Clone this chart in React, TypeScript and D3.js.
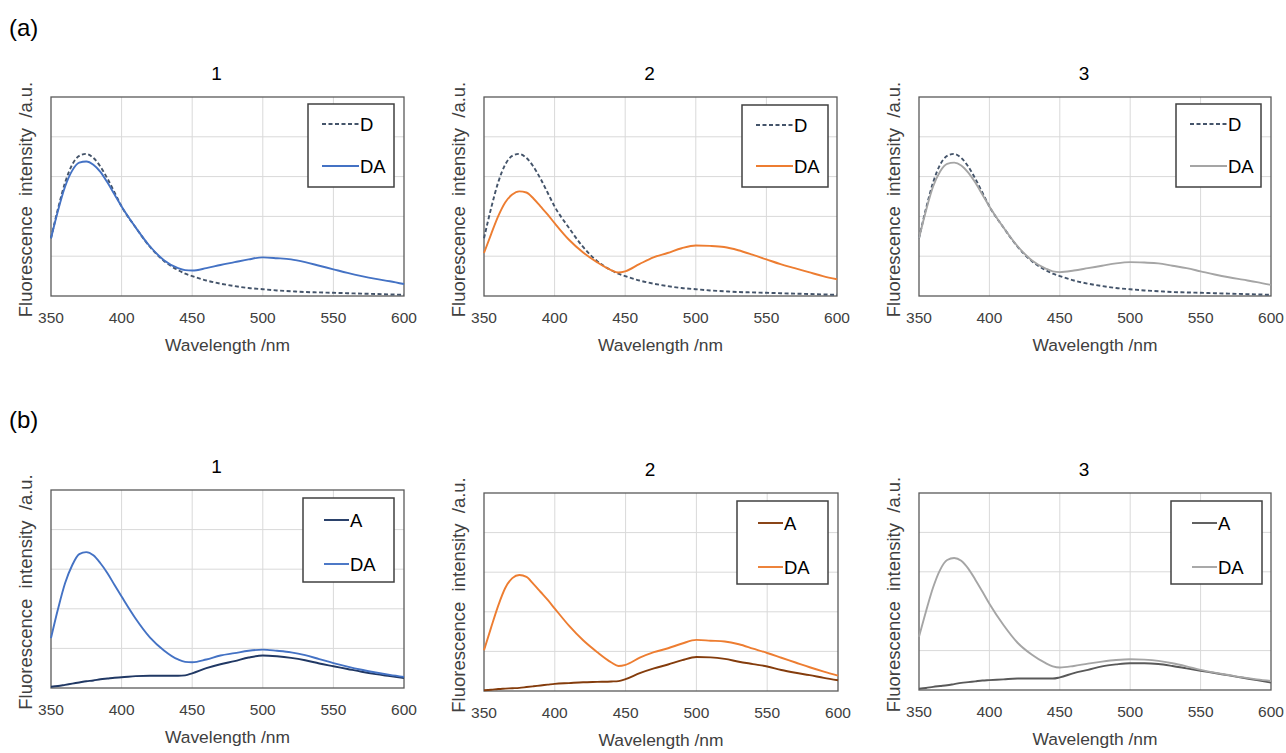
import React from 'react';
import * as d3 from 'd3';

// wavelength grid shared by every spectrum (nm)
const wavelengths = [350, 355, 360, 365, 370, 375, 380, 385, 390, 395, 400, 410, 420, 430, 440, 445, 450, 460, 470, 480, 490, 500, 510, 520, 530, 540, 550, 560, 570, 580, 590, 600];

// (a) donor only vs donor-acceptor
const donorD = [1.45, 2.2, 2.85, 3.3, 3.52, 3.57, 3.47, 3.25, 2.95, 2.6, 2.25, 1.72, 1.24, 0.88, 0.65, 0.56, 0.5, 0.39, 0.31, 0.25, 0.2, 0.17, 0.14, 0.12, 0.1, 0.09, 0.08, 0.07, 0.06, 0.05, 0.04, 0.03];
const daA1 = [1.45, 2.15, 2.75, 3.15, 3.35, 3.38, 3.3, 3.12, 2.85, 2.55, 2.25, 1.72, 1.25, 0.9, 0.7, 0.65, 0.64, 0.7, 0.78, 0.85, 0.92, 0.97, 0.95, 0.92, 0.85, 0.76, 0.67, 0.58, 0.5, 0.43, 0.37, 0.3];
const daA2 = [1.08, 1.55, 2.0, 2.35, 2.55, 2.63, 2.6, 2.45, 2.25, 2.05, 1.83, 1.42, 1.1, 0.85, 0.65, 0.59, 0.62, 0.8, 0.97, 1.08, 1.2, 1.27, 1.26, 1.23, 1.15, 1.04, 0.92, 0.8, 0.7, 0.6, 0.5, 0.42];
const daA3 = [1.45, 2.15, 2.75, 3.13, 3.32, 3.35, 3.28, 3.1, 2.85, 2.55, 2.25, 1.72, 1.25, 0.9, 0.69, 0.62, 0.6, 0.64, 0.7, 0.76, 0.82, 0.85, 0.84, 0.82, 0.76, 0.7, 0.62, 0.54, 0.47, 0.41, 0.35, 0.28];

// (b) acceptor only vs donor-acceptor
const accB1 = [0.03, 0.05, 0.08, 0.11, 0.14, 0.17, 0.19, 0.22, 0.24, 0.26, 0.27, 0.3, 0.31, 0.31, 0.31, 0.32, 0.37, 0.5, 0.6, 0.68, 0.77, 0.82, 0.8, 0.76, 0.7, 0.62, 0.55, 0.48, 0.41, 0.35, 0.3, 0.25];
const daB1 = [1.26, 2.0, 2.65, 3.1, 3.38, 3.43, 3.35, 3.15, 2.9, 2.6, 2.31, 1.75, 1.28, 0.95, 0.72, 0.66, 0.65, 0.72, 0.82, 0.88, 0.94, 0.97, 0.94, 0.9, 0.83, 0.73, 0.63, 0.54, 0.46, 0.39, 0.33, 0.28];
const accB2 = [0.02, 0.03, 0.05, 0.06, 0.07, 0.08, 0.1, 0.12, 0.14, 0.16, 0.18, 0.2, 0.22, 0.23, 0.24, 0.25, 0.3, 0.45, 0.57, 0.67, 0.78, 0.86, 0.85, 0.81, 0.74, 0.68, 0.62, 0.53, 0.46, 0.4, 0.33, 0.27];
const daB2 = [1.03, 1.6, 2.15, 2.6, 2.85, 2.93, 2.88, 2.7, 2.5, 2.3, 2.08, 1.65, 1.28, 0.98, 0.72, 0.63, 0.66, 0.84, 0.98, 1.08, 1.2, 1.29, 1.27, 1.25, 1.18, 1.07, 0.96, 0.84, 0.72, 0.6, 0.49, 0.39];
const accB3 = [0.03, 0.05, 0.08, 0.1, 0.12, 0.15, 0.18, 0.2, 0.22, 0.24, 0.25, 0.27, 0.29, 0.29, 0.29, 0.29, 0.32, 0.43, 0.51, 0.6, 0.65, 0.68, 0.68, 0.66, 0.61, 0.55, 0.49, 0.43, 0.37, 0.31, 0.25, 0.19];
const daB3 = [1.35, 2.0, 2.6, 3.05, 3.3, 3.35, 3.28, 3.08, 2.8, 2.5, 2.19, 1.65, 1.2, 0.9, 0.68, 0.6, 0.57, 0.61, 0.67, 0.72, 0.76, 0.78, 0.77, 0.74, 0.68, 0.6, 0.51, 0.44, 0.38, 0.32, 0.27, 0.23];

const xTicks = [350, 400, 450, 500, 550, 600];
const yGrid = [0, 1, 2, 3, 4, 5];
const xLabel = 'Wavelength /nm';
const yLabel = 'Fluorescence  intensity  /a.u.';

const FONT = '"Liberation Sans", Arial, sans-serif';

type Series = { name: string; values: number[]; color: string; dashed?: boolean };
type Panel = {
  title: string;
  box: { left: number; right: number; top: number; bottom: number };
  legend: { x: number; y: number; w: number; h: number; lineX0: number; lineX1: number; dy: number[] };
  series: Series[];
};

const panels: Panel[] = [
  {
    title: '1',
    box: { left: 51, right: 404, top: 97, bottom: 296 },
    legend: { x: 308, y: 104, w: 86, h: 83, lineX0: 14, lineX1: 51, dy: [20, 62] },
    series: [
      { name: 'D', values: donorD, color: '#44546A', dashed: true },
      { name: 'DA', values: daA1, color: '#4472C4' },
    ],
  },
  {
    title: '2',
    box: { left: 484, right: 837, top: 97, bottom: 296 },
    legend: { x: 742, y: 105, w: 86, h: 82, lineX0: 14, lineX1: 51, dy: [20, 61] },
    series: [
      { name: 'D', values: donorD, color: '#44546A', dashed: true },
      { name: 'DA', values: daA2, color: '#ED7D31' },
    ],
  },
  {
    title: '3',
    box: { left: 919, right: 1271, top: 97, bottom: 296 },
    legend: { x: 1176, y: 104, w: 85, h: 83, lineX0: 14, lineX1: 51, dy: [20, 62] },
    series: [
      { name: 'D', values: donorD, color: '#44546A', dashed: true },
      { name: 'DA', values: daA3, color: '#A5A5A5' },
    ],
  },
  {
    title: '1',
    box: { left: 51, right: 404, top: 490, bottom: 688 },
    legend: { x: 303, y: 498, w: 91, h: 84, lineX0: 21, lineX1: 46, dy: [22, 66] },
    series: [
      { name: 'A', values: accB1, color: '#203864' },
      { name: 'DA', values: daB1, color: '#4472C4' },
    ],
  },
  {
    title: '2',
    box: { left: 484, right: 838, top: 493, bottom: 691 },
    legend: { x: 737, y: 501, w: 91, h: 83, lineX0: 21, lineX1: 46, dy: [22, 66] },
    series: [
      { name: 'A', values: accB2, color: '#843C0C' },
      { name: 'DA', values: daB2, color: '#ED7D31' },
    ],
  },
  {
    title: '3',
    box: { left: 919, right: 1271, top: 493, bottom: 690 },
    legend: { x: 1171, y: 501, w: 91, h: 83, lineX0: 21, lineX1: 46, dy: [22, 66] },
    series: [
      { name: 'A', values: accB3, color: '#595959' },
      { name: 'DA', values: daB3, color: '#A5A5A5' },
    ],
  },
];

const SpectrumPanel = ({ panel }: { panel: Panel }) => {
  const { box, legend } = panel;
  const x = d3.scaleLinear().domain([350, 600]).range([box.left, box.right]);
  const y = d3.scaleLinear().domain([0, 5]).range([box.bottom, box.top]);
  const line = d3
    .line<number>()
    .x((_, i) => x(wavelengths[i]))
    .y((d) => y(d))
    .curve(d3.curveMonotoneX);
  const midX = (box.left + box.right) / 2;
  const midY = (box.top + box.bottom) / 2;

  return (
    <g>
      <text x={midX - 11} y={box.top - 17} textAnchor="middle" fontSize={19} fill="#000">
        {panel.title}
      </text>
      {yGrid.slice(1, -1).map((v) => (
        <line key={'h' + v} x1={box.left} x2={box.right} y1={y(v)} y2={y(v)} stroke="#D9D9D9" strokeWidth={1} />
      ))}
      {xTicks.slice(1, -1).map((v) => (
        <line key={'v' + v} x1={x(v)} x2={x(v)} y1={box.top} y2={box.bottom} stroke="#D9D9D9" strokeWidth={1} />
      ))}
      <rect
        x={box.left}
        y={box.top}
        width={box.right - box.left}
        height={box.bottom - box.top}
        fill="none"
        stroke="#595959"
        strokeWidth={1.3}
      />
      {panel.series.map((s) => (
        <path
          key={s.name}
          d={line(s.values) || ''}
          fill="none"
          stroke={s.color}
          strokeWidth={1.9}
          strokeDasharray={s.dashed ? '4,2.5' : undefined}
        />
      ))}
      {xTicks.map((v) => (
        <text key={'t' + v} x={x(v)} y={box.bottom + 27} textAnchor="middle" fontSize={15.5} fill="#404040">
          {v}
        </text>
      ))}
      <text x={midX} y={box.bottom + 55} textAnchor="middle" fontSize={17.4} fill="#404040">
        {xLabel}
      </text>
      <text
        transform={`translate(${box.left - 19},${midY + 3}) rotate(-90)`}
        textAnchor="middle"
        fontSize={18.5}
        fill="#404040"
        style={{ whiteSpace: 'pre' }}
      >
        {yLabel}
      </text>
      <rect
        x={legend.x}
        y={legend.y}
        width={legend.w}
        height={legend.h}
        fill="#fff"
        stroke="#404040"
        strokeWidth={1.5}
      />
      {panel.series.map((s, i) => (
        <g key={'l' + s.name}>
          <line
            x1={legend.x + legend.lineX0}
            x2={legend.x + legend.lineX1}
            y1={legend.y + legend.dy[i]}
            y2={legend.y + legend.dy[i]}
            stroke={s.color}
            strokeWidth={1.9}
            strokeDasharray={s.dashed ? '4,2.5' : undefined}
          />
          <text
            x={legend.x + legend.lineX1 + 1}
            y={legend.y + legend.dy[i] + 7}
            fontSize={18.5}
            fill="#000"
          >
            {s.name}
          </text>
        </g>
      ))}
    </g>
  );
};

export default function App() {
  return (
    <svg
      width={1286}
      height={753}
      style={{ position: 'absolute', left: 0, top: 0, background: '#fff' }}
      fontFamily={FONT}
    >
      <rect width={1286} height={753} fill="#fff" />
      <text x={9} y={36} fontSize={24} fill="#000">(a)</text>
      <text x={9} y={428} fontSize={24} fill="#000">(b)</text>
      {panels.map((p, i) => (
        <SpectrumPanel key={i} panel={p} />
      ))}
    </svg>
  );
}
